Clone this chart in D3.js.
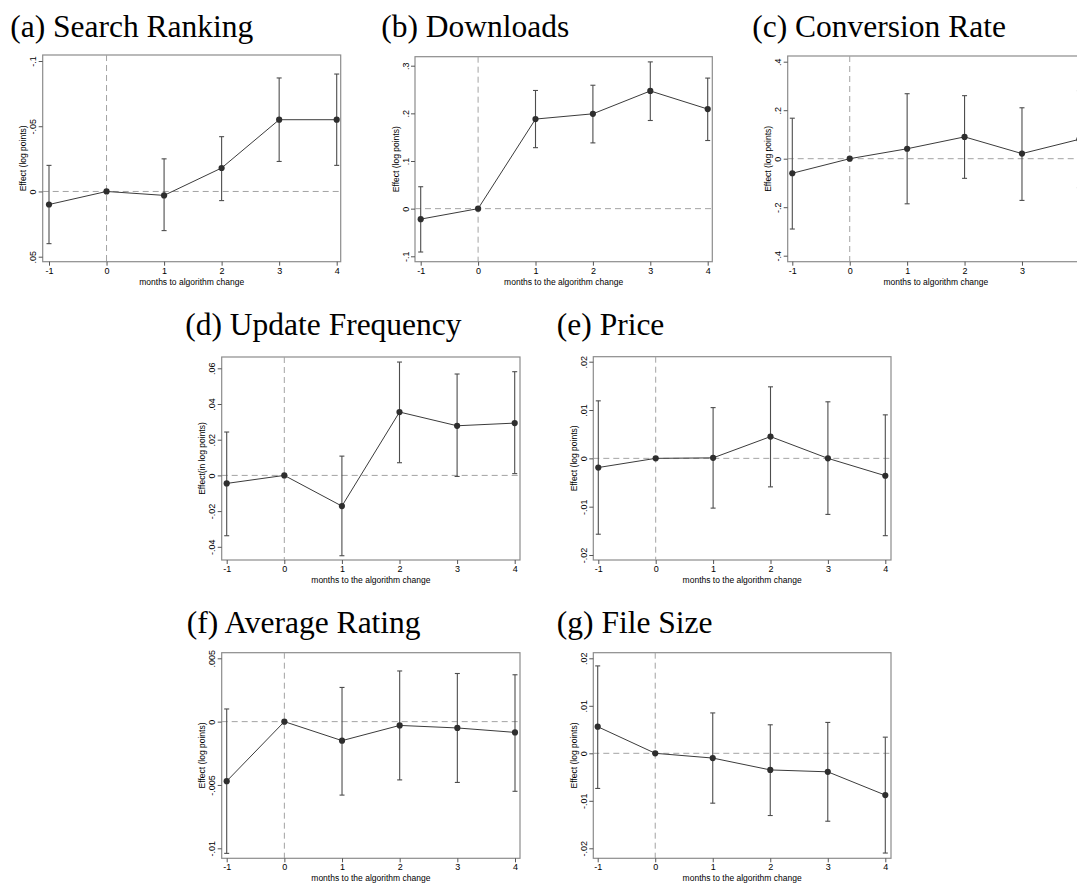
<!DOCTYPE html>
<html lang="en">
<head>
<meta charset="UTF-8">
<title>Effects around the algorithm change</title>
<style>
body { margin: 0; background: #fff; }
.ptitle { font-family: "Liberation Serif", "Times New Roman", serif; font-size: 31.5px; fill: #000; }
.tick text { font-family: "Liberation Sans", Arial, sans-serif; font-size: 9px; fill: #000; }
.tick line { stroke: #555; }
.axtitle { font-family: "Liberation Sans", Arial, sans-serif; font-size: 8.5px; fill: #000; }
</style>
</head>
<body>
<svg id="chart" width="1077" height="884"></svg>

<script src="https://d3js.org/d3.v7.min.js"></script>
<script>
// months relative to the change; month 0 is the reference (no CI)
const months = [-1, 0, 1, 2, 3, 4];

// (a) search ranking
const rankEst = [0.010, 0, 0.003, -0.018, -0.055, -0.055];
const rankLo  = [-0.020, null, -0.025, -0.042, -0.087, -0.090];
const rankHi  = [0.040, null, 0.030, 0.007, -0.023, -0.020];
const rankTicks = [-0.1, -0.05, 0, 0.05];

// (b) downloads
const dlEst = [-0.022, 0, 0.188, 0.199, 0.247, 0.209];
const dlLo  = [-0.091, null, 0.128, 0.138, 0.185, 0.143];
const dlHi  = [0.046, null, 0.248, 0.259, 0.308, 0.274];
const dlTicks = [-0.1, 0, 0.1, 0.2, 0.3];

// (c) conversion rate
const convEst = [-0.060, 0, 0.041, 0.090, 0.021, 0.080];
const convLo  = [-0.290, null, -0.186, -0.081, -0.172, -0.120];
const convHi  = [0.167, null, 0.268, 0.260, 0.210, 0.280];
const convTicks = [-0.4, -0.2, 0, 0.2, 0.4];

// (d) update frequency
const updEst = [-0.0045, 0, -0.0172, 0.0355, 0.0278, 0.0293];
const updLo  = [-0.0338, null, -0.0450, 0.0071, -0.0006, 0.0010];
const updHi  = [0.0243, null, 0.0108, 0.0635, 0.0568, 0.0581];
const updTicks = [-0.04, -0.02, 0, 0.02, 0.04, 0.06];

// (e) price
const priceEst = [-0.0019, 0, 0.0001, 0.0045, 0.0000, -0.0036];
const priceLo  = [-0.0157, null, -0.0103, -0.0059, -0.0116, -0.0160];
const priceHi  = [0.0119, null, 0.0105, 0.0148, 0.0117, 0.0090];
const priceTicks = [-0.02, -0.01, 0, 0.01, 0.02];

// (f) average rating
const rateEst = [-0.0047, 0, -0.0015, -0.0003, -0.0005, -0.00085];
const rateLo  = [-0.0104, null, -0.0058, -0.0046, -0.0048, -0.0055];
const rateHi  = [0.0010, null, 0.0027, 0.0040, 0.0038, 0.0037];
const rateTicks = [-0.01, -0.005, 0, 0.005];

// (g) file size
const sizeEst = [0.0056, 0, -0.0010, -0.0035, -0.0039, -0.0088];
const sizeLo  = [-0.0074, null, -0.0105, -0.0131, -0.0143, -0.0210];
const sizeHi  = [0.0184, null, 0.0085, 0.0060, 0.0065, 0.0034];
const sizeTicks = [-0.02, -0.01, 0, 0.01, 0.02];

const xTitleA = "months to algorithm change";
const xTitleB = "months to the algorithm change";

const W = 1077;

// panel layout (pixel boxes) + which arrays go where
const panels = [
  { title: "(a) Search Ranking", est: rankEst, lo: rankLo, hi: rankHi, ticks: rankTicks,
    yd: [-0.1, 0.05], yr: [61, 256.7], xr: [49, 336.7],
    left: 42.7, right: 340.7, top: 55, bottom: 261.7, tx: 10.2, ty: 37,
    xTitle: xTitleA, yTitle: "Effect (log points)" },
  { title: "(b) Downloads", est: dlEst, lo: dlLo, hi: dlHi, ticks: dlTicks,
    yd: [0.3, -0.1], yr: [65.7, 256.3], xr: [420.7, 707.7],
    left: 415, right: 712.3, top: 56.7, bottom: 261.7, tx: 381.2, ty: 37,
    xTitle: xTitleB, yTitle: "Effect (log points)" },
  { title: "(c) Conversion Rate", est: convEst, lo: convLo, hi: convHi, ticks: convTicks,
    yd: [0.4, -0.4], yr: [61.7, 255.7], xr: [792.3, 1079.4],
    left: 787.7, right: 1084, top: 56, bottom: 261.7, tx: 752.2, ty: 37,
    xTitle: xTitleA, yTitle: "Effect (log points)" },
  { title: "(d) Update Frequency", est: updEst, lo: updLo, hi: updHi, ticks: updTicks,
    yd: [0.06, -0.04], yr: [368.3, 546.8], xr: [226.7, 514.7],
    left: 221.7, right: 520, top: 357, bottom: 560, tx: 185.2, ty: 335,
    xTitle: xTitleB, yTitle: "Effect(in log points)" },
  { title: "(e) Price", est: priceEst, lo: priceLo, hi: priceHi, ticks: priceTicks,
    yd: [0.02, -0.02], yr: [361.7, 555], xr: [598.3, 885.3],
    left: 593.3, right: 891, top: 356.7, bottom: 560, tx: 556.8, ty: 335,
    xTitle: xTitleB, yTitle: "Effect (log points)" },
  { title: "(f) Average Rating", est: rateEst, lo: rateLo, hi: rateHi, ticks: rateTicks,
    yd: [0.005, -0.01], yr: [658.3, 848.3], xr: [226.7, 515],
    left: 221.7, right: 520, top: 652.7, bottom: 858.3, tx: 186.8, ty: 632.5,
    xTitle: xTitleB, yTitle: "Effect (log points)" },
  { title: "(g) File Size", est: sizeEst, lo: sizeLo, hi: sizeHi, ticks: sizeTicks,
    yd: [0.02, -0.02], yr: [658.3, 848.3], xr: [597.7, 885.3],
    left: 593.3, right: 891, top: 652.7, bottom: 858.3, tx: 556.8, ty: 632.5,
    xTitle: xTitleB, yTitle: "Effect (log points)" }
];

// Stata-style labels: ".05", "-.1", "0"
const stataFmt = d => d === 0 ? "0" : String(d).replace("0.", ".");

const svg = d3.select("#chart");

panels.forEach(p => {
  const x = d3.scaleLinear().domain([-1, 4]).range(p.xr);
  const y = d3.scaleLinear().domain(p.yd).range(p.yr);
  const rows = months.map((m, i) => ({ m: m, est: p.est[i], lo: p.lo[i], hi: p.hi[i] }));

  const g = svg.append("g");

  g.append("text")
    .attr("class", "ptitle")
    .attr("x", p.tx)
    .attr("y", p.ty)
    .text(p.title);

  // plot frame
  g.append("rect")
    .attr("x", p.left)
    .attr("y", p.top)
    .attr("width", p.right - p.left)
    .attr("height", p.bottom - p.top)
    .attr("fill", "none")
    .attr("stroke", "#8c8c8c")
    .attr("stroke-width", 1.2);

  // dashed reference lines at 0
  g.append("line")
    .attr("x1", p.left).attr("x2", p.right)
    .attr("y1", y(0)).attr("y2", y(0))
    .attr("stroke", "#a3a3a3")
    .attr("stroke-dasharray", "6,4");
  g.append("line")
    .attr("x1", x(0)).attr("x2", x(0))
    .attr("y1", p.top).attr("y2", p.bottom)
    .attr("stroke", "#a3a3a3")
    .attr("stroke-dasharray", "6,4");

  // y axis, labels turned vertical like Stata
  const ya = g.append("g")
    .attr("transform", "translate(" + p.left + ",0)")
    .call(d3.axisLeft(y).tickValues(p.ticks).tickFormat(stataFmt).tickSize(4).tickSizeOuter(0));
  ya.select(".domain").remove();
  ya.selectAll(".tick text")
    .attr("x", null)
    .attr("dy", null)
    .attr("text-anchor", "middle")
    .attr("transform", "translate(-6.5,0) rotate(-90)");

  // x axis (the (c) panel runs off the page, so drop ticks past the edge)
  const xTicks = months.filter(m => x(m) + 4 < W);
  const xa = g.append("g")
    .attr("transform", "translate(0," + p.bottom + ")")
    .call(d3.axisBottom(x).tickValues(xTicks).tickFormat(d => String(d)).tickSize(4).tickSizeOuter(0).tickPadding(1.5));
  xa.select(".domain").remove();

  g.append("text")
    .attr("class", "axtitle")
    .attr("x", (p.left + p.right) / 2)
    .attr("y", p.bottom + 23)
    .attr("text-anchor", "middle")
    .text(p.xTitle);

  g.append("text")
    .attr("class", "axtitle")
    .attr("text-anchor", "middle")
    .attr("transform", "translate(" + (p.left - 16.5) + "," + (p.top + p.bottom) / 2 + ") rotate(-90)")
    .text(p.yTitle);

  // confidence intervals
  const ci = rows.filter(d => d.lo !== null);
  g.selectAll(".ci")
    .data(ci)
    .enter()
    .append("line")
    .attr("x1", d => x(d.m)).attr("x2", d => x(d.m))
    .attr("y1", d => y(d.lo)).attr("y2", d => y(d.hi))
    .attr("stroke", "#4d4d4d")
    .attr("stroke-width", 1.1);
  ["lo", "hi"].forEach(k => {
    g.selectAll(".cap-" + k)
      .data(ci)
      .enter()
      .append("line")
      .attr("x1", d => x(d.m) - 2.5).attr("x2", d => x(d.m) + 2.5)
      .attr("y1", d => y(d[k])).attr("y2", d => y(d[k]))
      .attr("stroke", "#4d4d4d")
      .attr("stroke-width", 1.1);
  });

  // point estimates
  g.append("path")
    .datum(rows)
    .attr("fill", "none")
    .attr("stroke", "#3b3b3b")
    .attr("stroke-width", 1)
    .attr("d", d3.line().x(d => x(d.m)).y(d => y(d.est)));

  g.selectAll(".pt")
    .data(rows)
    .enter()
    .append("circle")
    .attr("cx", d => x(d.m))
    .attr("cy", d => y(d.est))
    .attr("r", 3.1)
    .attr("fill", "#2e2e2e");
});
</script>
</body>
</html>
